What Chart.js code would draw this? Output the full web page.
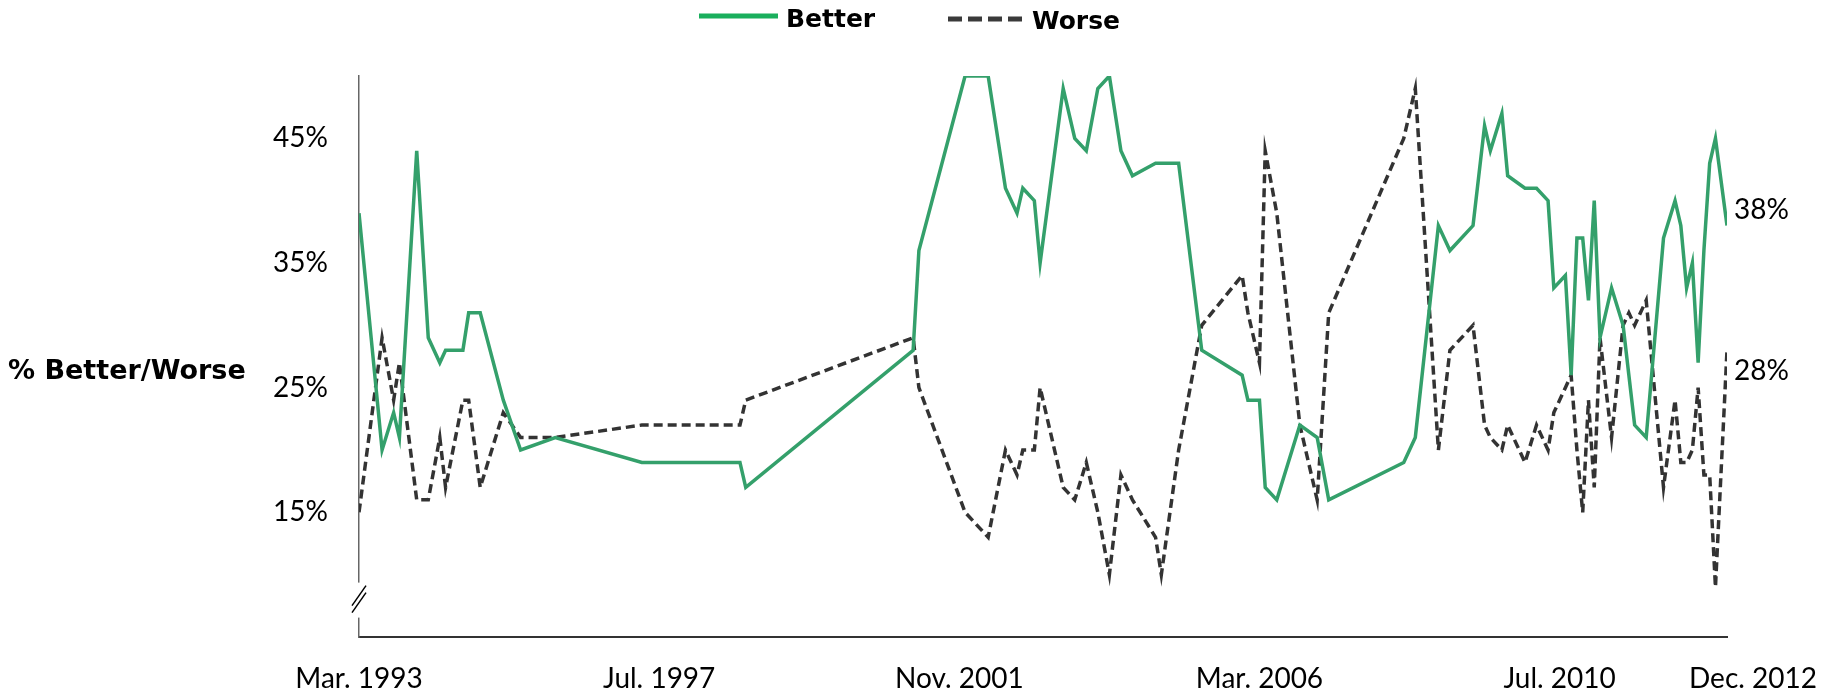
<!DOCTYPE html>
<html>
<head>
<meta charset="utf-8">
<script src="https://cdn.jsdelivr.net/npm/chart.js@4.4.1/dist/chart.umd.min.js"></script>
<style>
    html, body { margin: 0; padding: 0; background: #ffffff; }
</style>
</head>
<body>
<canvas id="myChart" width="1841" height="695"></canvas>

<script>
    var ctx = document.getElementById('myChart').getContext('2d');

    // Survey dates (year-month) and the two series, in %
    var dates = ['1993-03', '1993-07', '1993-09', '1993-10', '1994-01', '1994-03', '1994-05', '1994-06',
        '1994-09', '1994-10', '1994-12', '1995-04', '1995-07', '1996-01', '1997-04', '1998-09', '1998-10',
        '2001-03', '2001-04', '2001-12', '2002-04', '2002-07', '2002-09', '2002-10', '2002-12', '2003-01',
        '2003-05', '2003-07', '2003-09', '2003-11', '2004-01', '2004-03', '2004-05', '2004-09', '2004-10',
        '2005-01', '2005-05', '2005-12', '2006-01', '2006-03', '2006-04', '2006-06', '2006-10', '2007-01',
        '2007-03', '2008-04', '2008-06', '2008-10', '2008-12', '2009-04', '2009-06', '2009-07', '2009-09',
        '2009-10', '2010-01', '2010-03', '2010-05', '2010-06', '2010-08', '2010-09', '2010-10', '2010-11',
        '2010-12', '2011-01', '2011-02', '2011-04', '2011-06', '2011-07', '2011-08', '2011-10', '2012-01',
        '2012-03', '2012-04', '2012-05', '2012-06', '2012-07', '2012-08', '2012-09', '2012-10', '2012-12'];

    var better = [39, 20, 23, 21, 44, 29, 27, 28,
        28, 31, 31, 24, 20, 21, 19, 19, 17,
        28, 36, 50, 50, 41, 39, 41, 40, 35,
        49, 45, 44, 49, 50, 44, 42, 43, 43,
        43, 28, 26, 24, 24, 17, 16, 22, 21,
        16, 19, 21, 38, 36, 38, 46, 44, 47,
        42, 41, 41, 40, 33, 34, 26, 37, 37,
        32, 40, 29, 33, 30, 26, 22, 21, 37,
        40, 38, 33, 35, 27, 36, 43, 45, 38];

    var worse = [15, 29, 24, 27, 16, 16, 21, 17,
        24, 24, 17, 23, 21, 21, 22, 22, 24,
        29, 25, 15, 13, 20, 18, 20, 20, 25,
        17, 16, 19, 15, 10, 18, 16, 13, 10,
        20, 30, 34, 31, 27, 44, 39, 22, 16,
        31, 45, 49, 20, 28, 30, 22, 21, 20,
        22, 19, 22, 20, 23, 25, 26, 20, 15,
        24, 17, 29, 21, 30, 31, 30, 32, 17,
        24, 19, 19, 20, 25, 18, 18, 9, 28];

    // Axis labels
    var tickDates = ['1993-03', '1997-07', '2001-11', '2006-03', '2010-07', '2012-12'];
    var tickLabels = ['Mar. 1993', 'Jul. 1997', 'Nov. 2001', 'Mar. 2006', 'Jul. 2010', 'Dec. 2012'];
    var yTicks = [15, 25, 35, 45];

    // months since Mar. 1993
    function monthIndex(s) {
        var p = s.split('-');
        return (+p[0] - 1993) * 12 + (+p[1] - 3);
    }
    var xs = dates.map(monthIndex);

    var regular = 'Lato, "Liberation Sans", sans-serif';
    var bold = '"DejaVu Sans", sans-serif';

    // Everything Chart.js does not draw by itself: legend, title, axis break, labels
    var extrasPlugin = {
        id: 'extras',
        afterDraw: function(chart) {
            var c = chart.ctx;
            var xAxis = chart.scales.x;
            var yAxis = chart.scales.y;
            var left = chart.chartArea.left;
            var sets = chart.data.datasets;

            c.save();

            // axis break on the y axis
            var yb = yAxis.getPixelForValue(8);
            c.fillStyle = '#ffffff';
            c.fillRect(left - 4, yb - 17, 8, 35);
            c.strokeStyle = '#000000';
            c.lineWidth = 1.5;
            [-4, 3].forEach(function(d) {
                c.beginPath();
                c.moveTo(left - 7, yb + 10 + d);
                c.lineTo(left + 7, yb - 10 + d);
                c.stroke();
            });

            // legend
            c.lineWidth = 5;
            c.strokeStyle = '#1aaf5d';
            c.beginPath(); c.moveTo(699, 16); c.lineTo(778, 16); c.stroke();
            c.strokeStyle = '#3a3a3a';
            c.setLineDash([14, 6]);
            c.beginPath(); c.moveTo(948, 19); c.lineTo(1028, 19); c.stroke();
            c.setLineDash([]);
            c.fillStyle = '#000000';
            c.textAlign = 'left';
            c.textBaseline = 'alphabetic';
            c.font = 'bold 25px ' + bold;
            c.fillText(sets[0].label, 786, 27);
            c.fillText(sets[1].label, 1032, 29);

            // y title
            c.font = 'bold 27px ' + bold;
            c.fillText('% Better/Worse', 8, 379);

            // x labels
            c.font = '28px ' + regular;
            c.textAlign = 'center';
            tickDates.forEach(function(d, i) {
                var x = xAxis.getPixelForValue(monthIndex(d));
                if (i === tickDates.length - 1) x += 26;
                c.fillText(tickLabels[i], x, 688);
            });

            // end value labels
            c.textAlign = 'left';
            var last = xs.length - 1;
            var xe = xAxis.getPixelForValue(xs[last]) + 7;
            c.fillText(better[last] + '%', xe, yAxis.getPixelForValue(better[last]) - 7);
            c.fillText(worse[last] + '%', xe, yAxis.getPixelForValue(worse[last]) + 30);

            c.restore();
        }
    };

    var myChart = new Chart(ctx, {
        type: 'line',
        data: {
            datasets: [{
                label: 'Better',
                data: better.map(function(v, i) { return { x: xs[i], y: v }; }),
                borderColor: '#34a06b',
                borderWidth: 3.5,
                pointRadius: 0,
                tension: 0,
                fill: false
            }, {
                label: 'Worse',
                data: worse.map(function(v, i) { return { x: xs[i], y: v }; }),
                borderColor: '#333333',
                borderWidth: 3.5,
                borderDash: [9, 5],
                pointRadius: 0,
                tension: 0,
                fill: false
            }]
        },
        options: {
            responsive: false,
            animation: false,
            devicePixelRatio: 1,
            layout: { padding: { top: 76, right: 114, left: 0, bottom: 0 } },
            plugins: {
                legend: { display: false },
                tooltip: { enabled: false }
            },
            scales: {
                x: {
                    type: 'linear',
                    min: 0,
                    max: monthIndex('2012-12'),
                    grid: { display: false, drawTicks: false },
                    border: { color: '#333333', width: 2 },
                    ticks: { display: false },
                    afterFit: function(s) { s.height = 58; }
                },
                y: {
                    min: 5,
                    max: 50,
                    grid: { display: false, drawTicks: false },
                    border: { color: '#666666', width: 1.5 },
                    ticks: {
                        font: { family: regular, size: 28 },
                        color: '#000000',
                        padding: 31,
                        callback: function(v) { return v + '%'; }
                    },
                    afterBuildTicks: function(s) {
                        s.ticks = yTicks.map(function(v) { return { value: v }; });
                    },
                    afterFit: function(s) { s.width = 359; }
                }
            }
        },
        plugins: [extrasPlugin]
    });
</script>
</body>
</html>
